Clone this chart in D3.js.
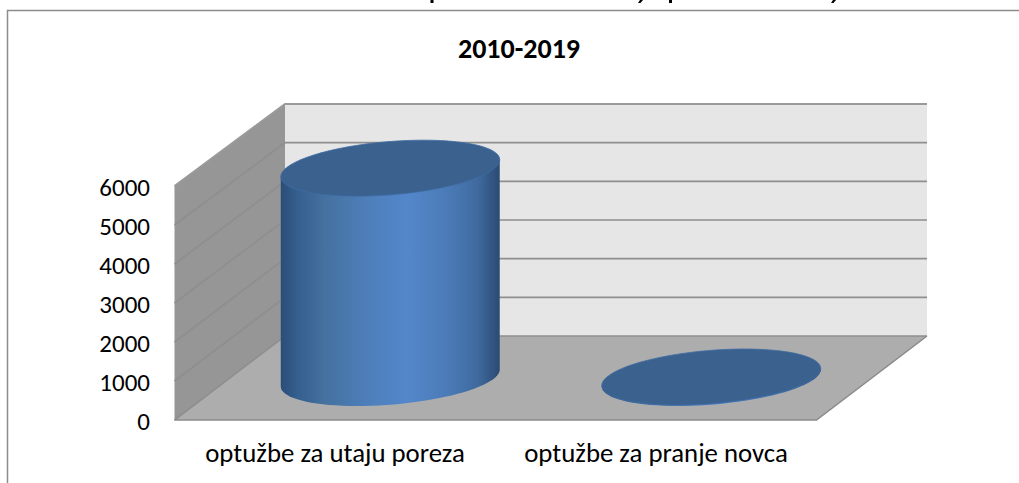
<!DOCTYPE html>
<html><head><meta charset="utf-8">
<script src="https://cdnjs.cloudflare.com/ajax/libs/d3/7.8.5/d3.min.js"></script>
<style>html,body{margin:0;padding:0;background:#fff}svg{display:block}</style></head>
<body><svg id="c" width="1019" height="483"></svg>
<script>
const categories = ["optužbe za utaju poreza", "optužbe za pranje novca"];
const values = [5380, 25];
const tickValues = [0, 1000, 2000, 3000, 4000, 5000, 6000];
const chartTitle = "2010-2019";
const headingScraps = ["M430.5,0h3v3h-3Z", "M640,0h3l-2.5,3h-2.5Z", "M669,0h3v3h-3Z", "M833,0h3l-2.5,3h-2.5Z"];

const W = 1019, H = 483, font = "Carlito, 'Open Sans', 'Noto Sans', sans-serif";
const svg = d3.select("#c");
const y = d3.scaleLinear().domain([0, 6000]).range([420, 186]);
const yBack = d3.scaleLinear().domain([0, 6000]).range([336, 104]);
const yLabel = d3.scaleLinear().domain([0, 6000]).range([429.5, 196]);
const x = d3.scaleBand().domain(categories).range([174.5, 816.5]).paddingInner(0.3178).paddingOuter(0.1589);
const depthX = 110.5;
const left = x.range()[0], right = x.range()[1], base = y(0), topY = y(6000);
const depthY = yBack(0) - y(0);

const defs = svg.append("defs");
const g = defs.append("linearGradient").attr("id", "cyl");
[[0,"#2c4d78"],[0.08,"#35608f"],[0.2,"#44719f"],[0.4,"#4e7fbb"],[0.58,"#5387cb"],[0.75,"#4c7cb8"],[0.9,"#3f6a9f"],[1,"#2b4a73"]]
  .forEach(([o,c]) => g.append("stop").attr("offset", o).attr("stop-color", c));

svg.append("path").attr("d", `M7.5,${H}V10.5H${W}`).attr("fill", "none").attr("stroke", "#8c8c8c").attr("stroke-width", 1.5);
headingScraps.forEach(d => svg.append("path").attr("d", d).attr("fill", "#000"));

const poly = pts => "M" + pts.map(p => p.join(",")).join("L") + "Z";
const bx = left + depthX, bxr = right + depthX;
svg.append("path").attr("d", poly([[bx,yBack(6000)],[bxr,yBack(6000)],[bxr,yBack(0)],[bx,yBack(0)]])).attr("fill", "#e6e6e6");
svg.append("path").attr("d", poly([[left,topY],[bx,yBack(6000)],[bx,yBack(0)],[left,base]])).attr("fill", "#969696");
svg.append("path").attr("d", poly([[left,base],[right,base],[bxr,yBack(0)],[bx,yBack(0)]])).attr("fill", "#adadad");
svg.append("path").attr("d", `M${left},${base}H${right}L${bxr},${yBack(0)}`).attr("fill", "none").attr("stroke", "#8a8a8a").attr("stroke-width", 1.5);

tickValues.forEach(t => {
  svg.append("path").attr("d", `M${left},${y(t)}L${bx},${yBack(t)}H${bxr}`)
    .attr("fill", "none").attr("stroke", t === 6000 ? "#9a9a9a" : "#8e8e8e").attr("stroke-width", t === 6000 ? 2 : 1.6);
});

const rx = x.bandwidth() / 2, ry = 26.7, skew = -8.5;
const pt = (cx, cy, a) => {
  const t = a * Math.PI / 180;
  return [cx + rx * Math.cos(t), cy + ry * Math.sin(t) + skew * Math.cos(t)];
};
const line = d3.line();
categories.forEach((c, i) => {
  const cx = x(c) + rx + depthX / 2;
  const cb = y(0) + depthY / 2, ct = y(values[i]) + depthY / 2;
  const body = [[cx + rx, ct + skew], ...d3.range(0, 181, 4).map(a => pt(cx, cb, a)), [cx - rx, ct - skew]];
  svg.append("path").attr("d", line(body) + "Z").attr("fill", "url(#cyl)");
  svg.append("path").attr("d", line(d3.range(0, 360, 4).map(a => pt(cx, ct, a))) + "Z")
    .attr("fill", "#3b618f").attr("stroke", "#3f6ca3").attr("stroke-width", 0.8);
});

const label = (px, py, s, size, weight) => svg.append("text").attr("x", px).attr("y", py)
  .attr("text-anchor", "middle").attr("font-family", font).attr("font-size", size)
  .attr("font-weight", weight || 400).attr("fill", "#000").text(s);
label(519, 58, chartTitle, 28, 700);
tickValues.forEach(t => label(150, yLabel(t), t, 25).attr("text-anchor", "end"));
categories.forEach(c => label(x(c) + rx, 462, c, 26.8));
</script></body></html>
